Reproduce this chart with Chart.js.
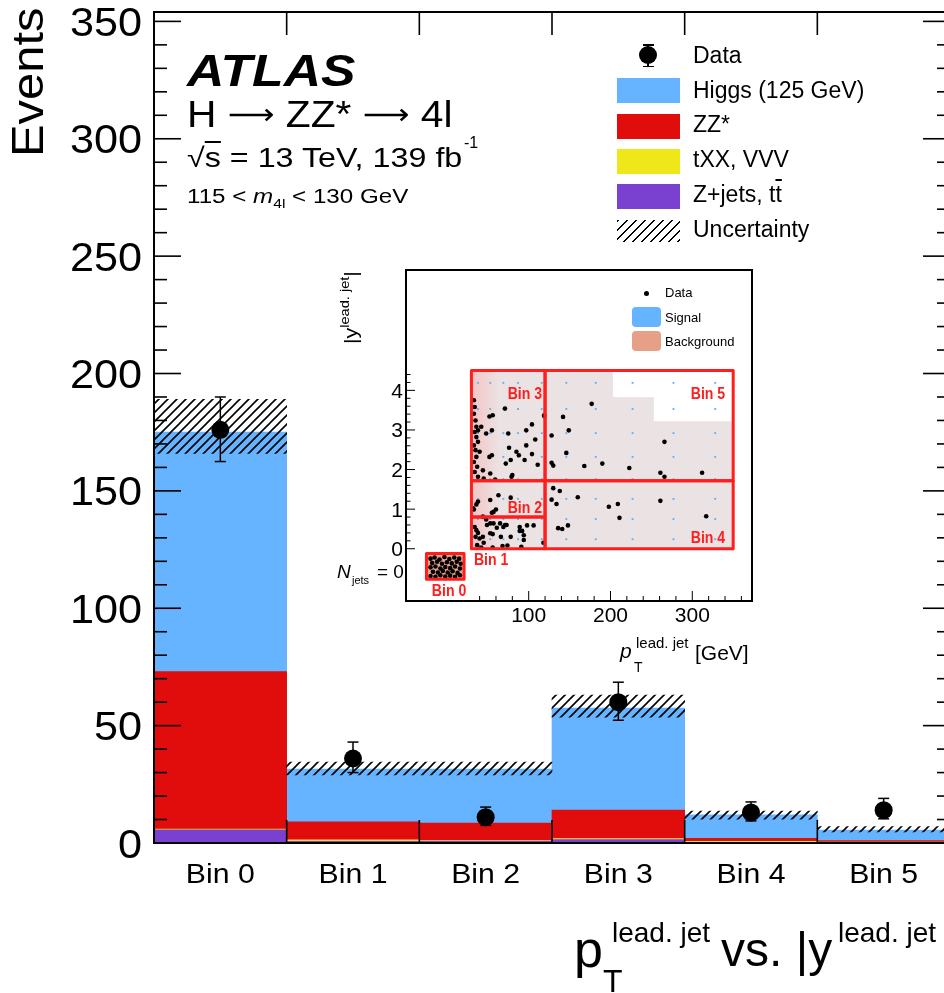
<!DOCTYPE html>
<html>
<head>
<meta charset="utf-8">
<script src="https://cdn.jsdelivr.net/npm/chart.js@4.4.0/dist/chart.umd.min.js"></script>
<style>
  html, body { margin: 0; padding: 0; background: #fff; overflow: hidden; }
  #wrap { position: relative; width: 944px; height: 993px; overflow: hidden;
          font-family: "Liberation Sans", Arial, sans-serif; color: #000; }
  #main { position: absolute; left: 0; top: 0; }
  #inset { position: absolute; left: 330px; top: 260px; }
  .t { position: absolute; white-space: nowrap; line-height: 1; transform-origin: 0 0; }
  .box { position: absolute; }
  .arr { font-family: "DejaVu Sans", sans-serif; font-size: 0.8em; position: relative; top: -0.1em; }
</style>
</head>
<body>
<div id="wrap">
  <canvas id="main" width="960" height="993"></canvas>
  <canvas id="inset" width="430" height="415"></canvas>
</div>
<script>
// ---- main histogram ----
const bins = ["Bin 0", "Bin 1", "Bin 2", "Bin 3", "Bin 4", "Bin 5"];
const zjets = [5.6, 0.7, 0.8, 1.5, 0.3, 0.2];
const txx = [0.3, 0.6, 0.3, 0.4, 0.4, 0.2];
const zz = [67.1, 7.7, 7.4, 12.1, 1.3, 0.6];
const higgs = [102, 22.5, 23, 43.5, 10, 4.5];
const uncLow = [166, 29, 29, 53.6, 10.2, 4.7];
const uncHigh = [189, 34.5, 34.5, 63, 13.6, 7];
const dataVals = [176, 36, 11, 60, 13, 14];
const dataErrUp = [14, 7, 4.3, 8.5, 4.5, 5];
const dataErrDown = [13.5, 6, 3.5, 7.7, 3.6, 3.7];
const yTickLabels = [0, 50, 100, 150, 200, 250, 300, 350];

// ---- inset (pT vs |y| of leading jet) ----
const insetXTicks = [100, 200, 300];
const insetYTicks = [0, 1, 2, 3, 4];
const ptEdges = [30, 120, 350];
const yEdges = [0, 0.8, 1.72, 4.5];
const bin0Box = [-25, 21, -0.77, -0.12];
const sigPt = [38, 53, 69, 87, 116, 146, 182, 227, 277, 328];
const sigY = [0.24, 0.75, 1.26, 1.76, 2.32, 2.92, 3.53, 4.19];
const bin0Pts = [[-20,-0.25],[-15,-0.22],[-9,-0.27],[-3,-0.21],[3,-0.26],[9,-0.22],[15,-0.25],
  [-18,-0.36],[-12,-0.33],[-6,-0.38],[0,-0.34],[6,-0.37],[12,-0.33],[17,-0.38],
  [-20,-0.47],[-14,-0.45],[-8,-0.5],[-2,-0.46],[4,-0.49],[10,-0.45],[16,-0.5],
  [-17,-0.58],[-11,-0.6],[-5,-0.56],[1,-0.6],[7,-0.57],[13,-0.61],
  [-20,-0.69],[-14,-0.71],[-8,-0.67],[-2,-0.7],[4,-0.68],[10,-0.71],[16,-0.67]];
const bin1Pts = [[34,0.55],[36,0.47],[38,0.40],[35,0.30],[40,0.26],[44,0.30],[45,0.15],[37,0.09],
  [49,0.60],[53,0.64],[57,0.64],[53,0.39],[56,0.37],[61,0.53],[65,0.64],[66,0.30],[69,0.55],
  [68,0.07],[71,0.60],[73,0.60],[78,0.30],[89,0.45],[89,0.55],[92,0.45],[94,0.34],[94,0.22],
  [98,0.59],[106,0.59],[91,0.05],[118,0.15],[56,0.03],[42,0.03],[74,0.08],[48,0.74]];
const bin2Pts = [[36,1.12],[33,0.99],[44,0.81],[53,1.23],[55,0.91],[57,0.93],[60,0.99],
  [63,1.35],[78,1.29],[38,1.19],[32,1.02]];
const bin3Pts = [[33,3.75],[34,3.58],[33,3.41],[35,3.24],[36,3.08],[38,2.99],[34,2.95],[36,2.82],
  [38,2.7],[33,2.61],[35,2.49],[40,2.45],[36,2.32],[33,2.19],[37,2.07],[34,1.94],[44,1.98],
  [38,1.82],[45,1.77],[42,3.08],[48,2.91],[52,3.34],[56,3.37],[55,2.99],[52,2.32],[55,2.36],
  [53,1.9],[59,1.75],[71,3.54],[75,2.91],[72,2.15],[76,2.55],[78,2.24],[80,1.86],[79,1.82],
  [85,2.45],[88,2.36],[95,2.24],[97,2.99],[97,2.61],[104,3.14],[104,2.39],[108,2.76],
  [111,2.12],[119,3.35]];
const bin4Pts = [[130,1.53],[138,1.46],[128,1.24],[134,1.13],[160,1.30],[198,1.06],[209,1.13],
  [211,0.78],[261,1.21],[317,0.82],[136,0.52],[141,0.50],[148,0.59]];
const bin5Pts = [[177,3.66],[119,3.37],[142,3.33],[149,2.99],[128,2.86],[266,2.7],[146,2.42],
  [128,2.17],[130,2.1],[168,2.09],[190,2.15],[223,2.04],[261,1.92],[266,1.82],[312,1.92]];

const FONT = '"Liberation Sans", Arial, sans-serif';
const wrap = document.getElementById("wrap");

function hatchPattern() {
  const c = document.createElement("canvas");
  c.width = 9; c.height = 9;
  const g = c.getContext("2d");
  g.strokeStyle = "#000";
  g.lineWidth = 1.6;
  g.beginPath();
  g.moveTo(-1, 10); g.lineTo(10, -1);
  g.moveTo(-2, 2); g.lineTo(2, -2);
  g.moveTo(7, 11); g.lineTo(11, 7);
  g.stroke();
  return g.createPattern(c, "repeat");
}

function line(ctx, x1, y1, x2, y2) {
  ctx.beginPath(); ctx.moveTo(x1, y1); ctx.lineTo(x2, y2); ctx.stroke();
}

function stretchText(ctx, s, x, y, font, sx, align) {
  ctx.save();
  ctx.font = font;
  ctx.textAlign = align;
  ctx.textBaseline = "alphabetic";
  ctx.translate(x, y);
  ctx.scale(sx, 1);
  ctx.fillText(s, 0, 0);
  ctx.restore();
}

// html text placed by its baseline (or, rotated, by the baseline x and start y)
function label(html, x, base, size, opts = {}) {
  const el = document.createElement("div");
  el.className = "t";
  el.innerHTML = html;
  el.style.fontSize = size + "px";
  if (opts.rotate) {
    el.style.left = (x - 0.8465 * size) + "px";
    el.style.top = base + "px";
  } else {
    el.style.left = x + "px";
    el.style.top = (base - 0.8465 * size) + "px";
  }
  if (opts.bold) el.style.fontWeight = "bold";
  if (opts.italic) el.style.fontStyle = "italic";
  wrap.appendChild(el);
  let tf = "";
  if (opts.rotate) tf += "rotate(-90deg) ";
  if (opts.width) tf += `scaleX(${opts.width / el.offsetWidth})`;
  el.style.transform = tf;
  return el;
}

function box(x, y, w, h, bg, extra = "") {
  const el = document.createElement("div");
  el.className = "box";
  el.style.cssText += `left:${x}px;top:${y}px;width:${w}px;height:${h}px;background:${bg};${extra}`;
  wrap.appendChild(el);
}

// error bars, frame, ticks, labels of the main plot
const mainDecor = {
  id: "mainDecor",
  afterDatasetsDraw(chart) {
    const { ctx } = chart;
    const x = chart.scales.x, y = chart.scales.yu;
    ctx.save();
    ctx.strokeStyle = "#000";
    ctx.lineWidth = 1.5;
    dataVals.forEach((v, i) => {
      const px = x.getPixelForValue(i);
      const top = y.getPixelForValue(v + dataErrUp[i]);
      const bot = y.getPixelForValue(v - dataErrDown[i]);
      line(ctx, px, top, px, bot);
      line(ctx, px - 5.5, top, px + 5.5, top);
      line(ctx, px - 5.5, bot, px + 5.5, bot);
    });
    ctx.restore();
  },
  afterDraw(chart) {
    const { ctx, chartArea: a } = chart;
    const x = chart.scales.x, y = chart.scales.y;
    ctx.save();
    ctx.strokeStyle = "#000";
    ctx.fillStyle = "#000";
    ctx.lineWidth = 2;
    ctx.strokeRect(a.left, a.top, a.right - a.left, a.bottom - a.top);
    ctx.lineWidth = 1.6;
    for (let v = 0; v <= y.max; v += 10) {
      const py = y.getPixelForValue(v);
      const len = v % 50 === 0 ? 27 : 13;
      line(ctx, a.left, py, a.left + len, py);
      line(ctx, a.right, py, a.right - len, py);
    }
    for (let i = 1; i < bins.length; i++) {
      const px = (x.getPixelForValue(i - 1) + x.getPixelForValue(i)) / 2;
      line(ctx, px, a.bottom, px, a.bottom - 23);
      line(ctx, px, a.top, px, a.top + 23);
    }
    yTickLabels.forEach(v => {
      stretchText(ctx, String(v), a.left - 12, y.getPixelForValue(v) + 14.5, `40px ${FONT}`, 1.08, "right");
    });
    bins.forEach((b, i) => {
      stretchText(ctx, b, x.getPixelForValue(i), a.bottom + 40, `28px ${FONT}`, 1.08, "center");
    });
    ctx.restore();
  }
};

const hatch = hatchPattern();

new Chart(document.getElementById("main"), {
  type: "bar",
  data: {
    labels: bins,
    datasets: [
      {
        type: "line",
        label: "Data",
        data: dataVals,
        yAxisID: "yu",
        showLine: false,
        pointRadius: 9,
        pointBackgroundColor: "#000",
        pointBorderWidth: 0,
        order: 0,
      },
      {
        label: "Uncertainty",
        data: bins.map((b, i) => [uncLow[i], uncHigh[i]]),
        yAxisID: "yu",
        backgroundColor: hatch,
        grouped: false,
        order: 1,
      },
      // stacked from the bottom up (stack follows "order")
      { label: "Z+jets, tt", data: zjets, backgroundColor: "#7a40d0", grouped: false, order: 2 },
      { label: "tXX, VVV", data: txx, backgroundColor: "#eee81a", grouped: false, order: 3 },
      { label: "ZZ*", data: zz, backgroundColor: "#e10c0c", grouped: false, order: 4 },
      { label: "Higgs (125 GeV)", data: higgs, backgroundColor: "#66b3ff", grouped: false, order: 5 },
    ],
  },
  options: {
    responsive: false,
    animation: false,
    devicePixelRatio: 1,
    layout: { padding: { top: 12, right: 10, left: 0, bottom: 0 } },
    datasets: { bar: { categoryPercentage: 1, barPercentage: 1, borderWidth: 0 } },
    scales: {
      x: {
        offset: true,
        grid: { display: false },
        border: { display: false },
        ticks: { display: false },
        afterFit(s) { s.height = 150; },
      },
      y: {
        stacked: true,
        min: 0,
        max: 354,
        grid: { display: false },
        border: { display: false },
        ticks: { display: false },
        afterFit(s) { s.width = 154; },
      },
      yu: { display: false, min: 0, max: 354 },
    },
    plugins: { legend: { display: false }, tooltip: { enabled: false } },
  },
  plugins: [mainDecor],
});

// ---- inset ----
const C_RED = "#ff1d1d";
const insetDecor = {
  id: "insetDecor",
  beforeDatasetsDraw(chart) {
    const { ctx } = chart;
    const x = chart.scales.x, y = chart.scales.y;
    const R = (x0, x1, y0, y1) => [x.getPixelForValue(x0), y.getPixelForValue(y1),
      x.getPixelForValue(x1) - x.getPixelForValue(x0), y.getPixelForValue(y0) - y.getPixelForValue(y1)];
    ctx.save();
    ctx.fillStyle = "#ebe3e3";
    ctx.fillRect(...R(ptEdges[0], ptEdges[2], yEdges[0], yEdges[3]));
    const gx0 = x.getPixelForValue(ptEdges[0]), gx1 = x.getPixelForValue(65);
    const grad = ctx.createLinearGradient(gx0, 0, gx1, 0);
    grad.addColorStop(0, "rgba(244,196,196,1)");
    grad.addColorStop(1, "rgba(244,196,196,0)");
    ctx.fillStyle = grad;
    ctx.fillRect(...R(ptEdges[0], 65, yEdges[0], yEdges[3]));
    ctx.fillStyle = "#fff";
    ctx.fillRect(...R(203, ptEdges[2], 3.83, yEdges[3]));
    ctx.fillRect(...R(253, ptEdges[2], 3.22, 3.83));
    ctx.fillStyle = "#eba28c";
    ctx.fillRect(...R(bin0Box[0], bin0Box[1], bin0Box[2], bin0Box[3]));
    ctx.restore();
  },
  afterDatasetsDraw(chart) {
    const { ctx } = chart;
    const x = chart.scales.x, y = chart.scales.y;
    const R = (x0, x1, y0, y1) => [x.getPixelForValue(x0), y.getPixelForValue(y1),
      x.getPixelForValue(x1) - x.getPixelForValue(x0), y.getPixelForValue(y0) - y.getPixelForValue(y1)];
    ctx.save();
    ctx.strokeStyle = C_RED;
    ctx.lineWidth = 3;
    ctx.lineJoin = "round";
    ctx.strokeRect(...R(bin0Box[0], bin0Box[1], bin0Box[2], bin0Box[3]));
    ctx.strokeRect(...R(ptEdges[0], ptEdges[1], yEdges[0], yEdges[1]));
    ctx.strokeRect(...R(ptEdges[0], ptEdges[1], yEdges[1], yEdges[2]));
    ctx.strokeRect(...R(ptEdges[0], ptEdges[1], yEdges[2], yEdges[3]));
    ctx.strokeRect(...R(ptEdges[1], ptEdges[2], yEdges[0], yEdges[2]));
    ctx.strokeRect(...R(ptEdges[1], ptEdges[2], yEdges[2], yEdges[3]));
    ctx.fillStyle = C_RED;
    const bf = `bold 16px ${FONT}`;
    stretchText(ctx, "Bin 3", x.getPixelForValue(ptEdges[1]) - 3, y.getPixelForValue(3.77), bf, 0.88, "right");
    stretchText(ctx, "Bin 5", x.getPixelForValue(ptEdges[2]) - 8, y.getPixelForValue(3.77), bf, 0.88, "right");
    stretchText(ctx, "Bin 2", x.getPixelForValue(ptEdges[1]) - 3, y.getPixelForValue(0.9), bf, 0.88, "right");
    stretchText(ctx, "Bin 4", x.getPixelForValue(ptEdges[2]) - 8, y.getPixelForValue(0.14), bf, 0.88, "right");
    stretchText(ctx, "Bin 1", x.getPixelForValue(33), y.getPixelForValue(-0.41), bf, 0.88, "left");
    stretchText(ctx, "Bin 0", x.getPixelForValue(-18.4), y.getPixelForValue(-1.19), bf, 0.88, "left");
    ctx.restore();
  },
  afterDraw(chart) {
    const { ctx, chartArea: a } = chart;
    const x = chart.scales.x, y = chart.scales.y;
    ctx.save();
    ctx.strokeStyle = "#000";
    ctx.fillStyle = "#000";
    ctx.lineWidth = 2;
    ctx.strokeRect(a.left, a.top, a.right - a.left, a.bottom - a.top);
    ctx.lineWidth = 1;
    for (let v = 0; v <= 4.41; v += 0.2) {
      const py = y.getPixelForValue(v);
      const major = Math.abs(v - Math.round(v)) < 0.01;
      line(ctx, a.left, py, a.left + (major ? 9 : 4.5), py);
    }
    for (let v = 40; v <= 360; v += 20) {
      const px = x.getPixelForValue(v);
      line(ctx, px, a.bottom, px, a.bottom - (v % 100 === 0 ? 10 : 5));
    }
    insetYTicks.forEach(v => {
      stretchText(ctx, String(v), a.left - 3, y.getPixelForValue(v) + 7.5, `21px ${FONT}`, 1, "right");
    });
    insetXTicks.forEach(v => {
      stretchText(ctx, String(v), x.getPixelForValue(v), a.bottom + 21, `21px ${FONT}`, 1, "center");
    });
    ctx.restore();
  }
};

const toXY = p => ({ x: p[0], y: p[1] });
const signalPts = sigPt.flatMap(px => sigY.map(py => ({ x: px, y: py })));

new Chart(document.getElementById("inset"), {
  type: "scatter",
  data: {
    datasets: [
      {
        label: "Data",
        data: [...bin0Pts, ...bin1Pts, ...bin2Pts, ...bin3Pts, ...bin4Pts, ...bin5Pts].map(toXY),
        pointRadius: 2.3,
        pointBackgroundColor: "#000",
        pointBorderWidth: 0,
        order: 0,
      },
      {
        label: "Signal",
        data: signalPts,
        pointStyle: "rect",
        pointRadius: 1.3,
        pointBackgroundColor: "#5fadf7",
        pointBorderWidth: 0,
        order: 1,
      },
    ],
  },
  options: {
    responsive: false,
    animation: false,
    devicePixelRatio: 1,
    layout: { padding: { top: 10, right: 8, left: 0, bottom: 0 } },
    scales: {
      x: {
        min: -50, max: 373,
        grid: { display: false }, border: { display: false }, ticks: { display: false },
        afterFit(s) { s.height = 74; },
      },
      y: {
        min: -1.32, max: 7.04,
        grid: { display: false }, border: { display: false }, ticks: { display: false },
        afterFit(s) { s.width = 76; },
      },
    },
    plugins: { legend: { display: false }, tooltip: { enabled: false } },
  },
  plugins: [insetDecor],
});

// ---- text: ATLAS block ----
label("ATLAS", 187, 86, 44, { bold: true, italic: true, width: 168 });
label('H <span class="arr">&#x27F6;</span> ZZ* <span class="arr">&#x27F6;</span> 4l', 187, 127, 36, { width: 266 });
label('&radic;<span style="text-decoration:overline">s</span> = 13 TeV, 139 fb', 187, 168, 27, { width: 275 });
label("-1", 464, 149, 16);
label('115 &lt; <i>m</i><span style="font-size:13px;position:relative;top:5px">4l</span> &lt; 130 GeV', 187, 203, 20, { width: 221 });

// ---- main legend ----
box(639, 46, 18, 18, "#000", "border-radius:50%;");
box(647, 44, 1.5, 23, "#000");
box(642.5, 44, 11, 1.5, "#000");
box(642.5, 65.5, 11, 1.5, "#000");
box(617, 78, 63, 25, "#66b3ff");
box(617, 114, 63, 25, "#e10c0c");
box(617, 149, 63, 25, "#eee81a");
box(617, 184, 63, 25, "#7a40d0");
box(617, 220, 63, 22, "repeating-linear-gradient(135deg, #000 0 1.6px, transparent 1.6px 6.4px)");
label("Data", 693, 63, 23);
label("Higgs (125 GeV)", 693, 98, 23);
label("ZZ*", 693, 132.5, 23);
label("tXX, VVV", 693, 167, 23);
label('Z+jets, t<span style="text-decoration:overline">t</span>', 693, 202, 23);
label("Uncertainty", 693, 237, 23);

// ---- axis titles ----
label("Events", 43, 157, 44, { rotate: true, width: 150 });
label("p", 574, 967, 52);
label("T", 603, 992, 32);
label("lead. jet", 612, 943, 28);
label("vs. |y", 721, 967, 48);
label("lead. jet", 838, 943, 28);

// ---- inset texts ----
label('|y<span style="font-size:13px;position:relative;top:-8px">lead. jet</span>|', 357, 344, 19, { rotate: true, width: 73 });
label("p", 620, 658, 21, { italic: true });
label("T", 634, 672, 14);
label("lead. jet", 636, 648, 15);
label("[GeV]", 695, 660, 21);
label("N", 337, 578, 19, { italic: true });
label("jets", 352, 584, 11);
label("= 0", 377, 578, 19);
box(644.2, 290.5, 5, 5, "#000", "border-radius:50%;");
box(632, 307, 29, 20, "#66b3ff", "border-radius:4px;");
box(632, 331, 29, 20, "#e7a088", "border-radius:4px;");
label("Data", 665, 297.5, 13);
label("Signal", 665, 322, 13);
label("Background", 665, 346, 13);
</script>
</body>
</html>
